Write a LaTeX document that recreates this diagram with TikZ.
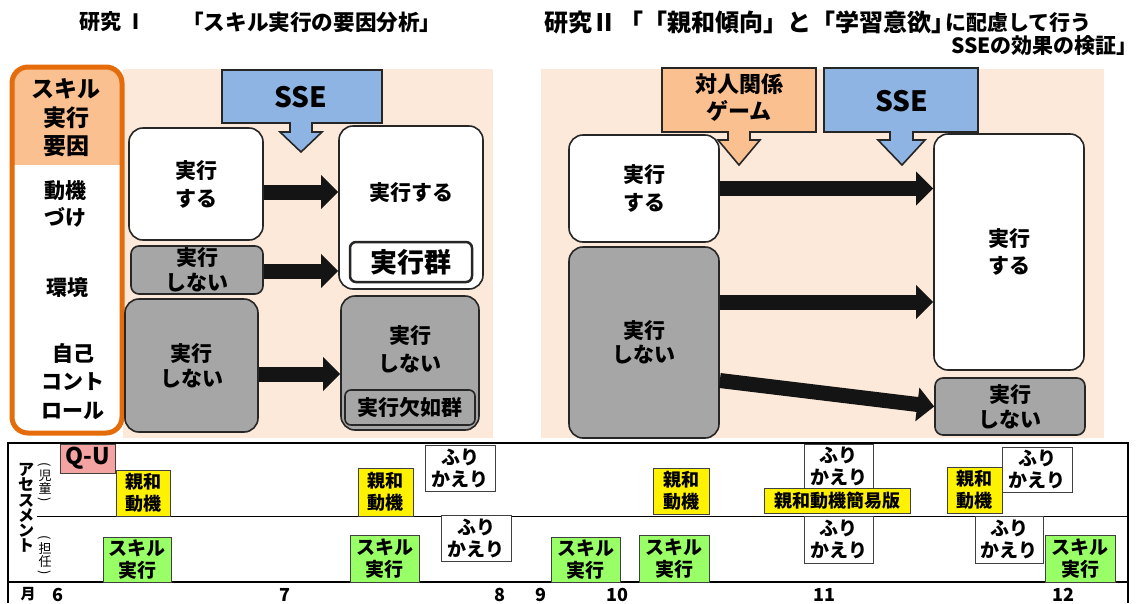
\documentclass[tikz,border=0pt]{standalone}
\usepackage{fontspec}
\setmainfont{Noto Sans CJK JP}
\usetikzlibrary{arrows.meta,calc}
\definecolor{peach}{HTML}{FDE9D9}
\definecolor{orgdark}{HTML}{E46C0A}
\definecolor{orglight}{HTML}{FAC090}
\definecolor{sseblue}{HTML}{8EB4E3}
\definecolor{boxgray}{HTML}{A6A6A6}
\definecolor{qupink}{HTML}{F4A3A3}
\definecolor{skgreen}{HTML}{99FF66}
\newcommand{\fsz}[2]{\fontsize{#1}{#2}\selectfont}
\begin{document}
\begin{tikzpicture}[x=1pt,y=-1pt,font=\bfseries,
  wbox/.style={draw=black!85,line width=1.6pt,fill=white,rounded corners=14pt,inner sep=0pt,align=center,font=\bfseries\fsz{21}{28}},
  gbox/.style={wbox,fill=boxgray},
  sgbox/.style={gbox,rounded corners=8pt},
  lbl/.style={inner sep=0pt,align=center},
  bigarrow/.style={draw=black!92,line width=15pt,-{Triangle[length=17pt,width=33pt]}},
  callout/.style={draw=black!85,line width=1.6pt},
  tbox/.style={draw=black!75,line width=1pt,inner sep=0pt,align=center,font=\bfseries\fsz{18}{22}},
  ybox/.style={tbox,fill=yellow},
  gnbox/.style={tbox,fill=skgreen,font=\bfseries\fsz{19}{22}},
  fbox/.style={tbox,fill=white,font=\bfseries\fsz{19}{22}},
  paren/.style={inner sep=0pt,rotate=-90,font=\fsz{13}{13}},
  month/.style={inner sep=0pt,font=\bfseries\fsz{18}{18}}]
\useasboundingbox[fill=white] (0,0) rectangle (1138,603);

% ---------- titles ----------
\node[lbl,anchor=west,font=\bfseries\fsz{21}{21}] (t1a) at (79,22) {研究\hspace{4pt}Ⅰ};
\node[lbl,anchor=west,font=\bfseries\fsz{21.6}{21.6}] (t1b) at (182,22) {「スキル実行の要因分析」};
\node[lbl,anchor=west,font=\bfseries\fsz{24}{24}] (t2a) at (544,22) {研究Ⅱ};
\node[lbl,anchor=west,font=\bfseries\fsz{24}{24}] (t2b) at (619,22) {「「親和傾向」と「学習意欲」};
\node[lbl,anchor=west,font=\bfseries\fsz{21}{21}] (t2c) at (945,23) {に配慮して行う};
\node[lbl,anchor=east,font=\bfseries\fsz{21}{21}] (t2d) at (1138,46) {SSEの効果の検証」};

% ---------- panels ----------
\fill[peach] (123,69) rectangle (493,438);
\fill[peach] (541,69) rectangle (1104,438);

% ---------- left factor column ----------
\fill[white,rounded corners=16pt] (12,67) rectangle (122,433);
\begin{scope}
  \clip[rounded corners=16pt] (12,67) rectangle (122,433);
  \fill[orglight] (12,67) rectangle (122,165);
\end{scope}
\draw[orgdark,line width=5pt,rounded corners=16pt] (12,67) rectangle (122,433);
\node[lbl,font=\bfseries\fsz{23}{28.5}] (fac) at (66,118) {スキル\\実行\\要因};
\node[lbl,font=\bfseries\fsz{21}{27}] (mot) at (65,203.5) {動機\\づけ};
\node[lbl,font=\bfseries\fsz{21}{27}] (env) at (67,288) {環境};
\node[lbl,font=\bfseries\fsz{21}{28.5}] (self) at (73,381.5) {自己\\コント\\ロール};

% ---------- study I boxes ----------
\node[wbox,minimum width=134,minimum height=112] (W1) at (196,184) {実行\\する};
\node[sgbox,minimum width=132,minimum height=48,font=\bfseries\fsz{21}{25}] (GS) at (197,270) {実行\\しない};
\node[gbox,minimum width=133,minimum height=133,font=\bfseries\fsz{21}{25}] (GB) at (191.5,365.5) {実行\\しない};
\node[wbox,minimum width=144,minimum height=163] (RW) at (411,207.5) {};
\node[lbl,font=\bfseries\fsz{21}{21}] (RWt) at (411,193) {実行する};
\node[wbox,rounded corners=6pt,line width=2.5pt,minimum width=122,minimum height=40,font=\bfseries\fsz{27}{27}] (RWg) at (411,262) {実行群};
\node[gbox,minimum width=138,minimum height=134] (RG) at (410,363) {};
\node[lbl,font=\bfseries\fsz{21}{28}] (RGt) at (410,349) {実行\\しない};
\node[gbox,rounded corners=6pt,minimum width=130,minimum height=35,font=\bfseries\fsz{21}{21}] (RGg) at (410,407.5) {実行欠如群};

\coordinate (ya) at (0,192);
\coordinate (yb) at (0,271);
\coordinate (yc) at (0,374);
\draw[bigarrow] (W1.east |- ya) -- (RW.west |- ya);
\draw[bigarrow] (GS.east |- yb) -- (RW.west |- yb);
\draw[bigarrow] (GB.east |- yc) -- (RG.west |- yc);

% SSE callout (study I)
\draw[callout,fill=sseblue] (222,70) -- (382,70) -- (382,123) -- (312,123) -- (312,132) -- (322,132) -- (301,152) -- (280,132) -- (290,132) -- (290,123) -- (222,123) -- cycle;
\node[lbl,font=\bfseries\fsz{28}{28}] (sse1) at (301,97) {SSE};

% ---------- study II boxes ----------
\node[wbox,minimum width=150,minimum height=107] (RW1) at (644,188.5) {実行\\する};
\node[gbox,minimum width=150,minimum height=191,font=\bfseries\fsz{21}{24}] (RG1) at (644,342.5) {実行\\しない};
\node[wbox,minimum width=150,minimum height=236,font=\bfseries\fsz{21}{27}] (RWr) at (1009,252) {実行\\する};
\node[sgbox,minimum width=150,minimum height=57,font=\bfseries\fsz{21}{25}] (RGr) at (1010,406.5) {実行\\しない};

\coordinate (yd) at (0,302);
\draw[bigarrow] (RW1.east) -- (RWr.west |- RW1.east);
\draw[bigarrow] (RG1.east |- yd) -- (RWr.west |- yd);
\draw[bigarrow] ($(RG1.east)+(0,38)$) -- (RGr.west);

% callouts (study II)
\draw[callout,fill=orglight] (662,68) -- (816,68) -- (816,132) -- (750,132) -- (750,140) -- (760,140) -- (739,165) -- (718,140) -- (728,140) -- (728,132) -- (662,132) -- cycle;
\node[lbl,font=\bfseries\fsz{22}{27}] (game) at (739,98) {対人関係\\ゲーム};
\draw[callout,fill=sseblue] (824,68) -- (978,68) -- (978,132) -- (913,132) -- (913,140) -- (925,140) -- (902,165) -- (878,140) -- (890,140) -- (890,132) -- (824,132) -- cycle;
\node[lbl,font=\bfseries\fsz{28}{28}] (sse2) at (902,101) {SSE};

% ---------- timeline ----------
\draw[line width=1.3pt] (8,603) -- (8,443) -- (1128,443) -- (1128,603);
\draw[line width=1.3pt] (8,582) -- (1128,582);
\draw[line width=1pt] (37,516) -- (1128,516);

\node[lbl,font=\bfseries\fsz{16}{15.3}] (asm) at (26,508) {ア\\セ\\ス\\メ\\ン\\ト};
\node[lbl,font=\fsz{13}{13.5}] (chd) at (45,482) {児\\童};
\node[paren] (chdo) at (45,465) {(};
\node[paren] (chdc) at (45,500) {)};
\node[lbl,font=\fsz{13}{13.5}] (tch) at (45,555) {担\\任};
\node[paren] (tcho) at (45,538) {(};
\node[paren] (tchc) at (45,573) {)};

\node[tbox,fill=qupink,minimum width=55,minimum height=29,font=\bfseries\fsz{23}{23}] (QU) at (87.5,458.5) {Q-U};

\node[ybox,minimum width=54,minimum height=46] (Y1) at (143,493) {親和\\動機};
\node[ybox,minimum width=55,minimum height=48] (Y2) at (385.5,492) {親和\\動機};
\node[ybox,minimum width=56,minimum height=46] (Y3) at (681,491) {親和\\動機};
\node[ybox,minimum width=55,minimum height=46] (Y4) at (974.5,490) {親和\\動機};
\node[ybox,minimum width=146,minimum height=25] (YS) at (837,500.5) {親和動機簡易版};

\node[fbox,minimum width=70,minimum height=46] (F1) at (460,468) {ふり\\かえり};
\node[fbox,minimum width=70,minimum height=46] (F2) at (476,538) {ふり\\かえり};
\node[fbox,minimum width=69,minimum height=44] (F3) at (838.5,466) {ふり\\かえり};
\node[fbox,minimum width=69,minimum height=47] (F4) at (838.5,539.5) {ふり\\かえり};
\node[fbox,minimum width=70,minimum height=45] (F5) at (1037,469.5) {ふり\\かえり};
\node[fbox,minimum width=68,minimum height=47] (F6) at (1009,539.5) {ふり\\かえり};

\node[gnbox,minimum width=68,minimum height=45] (G1) at (137,559.5) {スキル\\実行};
\node[gnbox,minimum width=69,minimum height=47] (G2) at (384.5,558.5) {スキル\\実行};
\node[gnbox,minimum width=69,minimum height=45] (G3) at (585.5,559.5) {スキル\\実行};
\node[gnbox,minimum width=70,minimum height=47] (G4) at (674,558.5) {スキル\\実行};
\node[gnbox,minimum width=70,minimum height=47] (G5) at (1080,558.5) {スキル\\実行};

\node[month,font=\bfseries\fsz{15}{15}] (mo) at (28,594) {月};
\node[month] (m6) at (58,595) {6};
\node[month] (m7) at (285,595) {7};
\node[month] (m8) at (500,595) {8};
\node[month] (m9) at (541,595) {9};
\node[month] (m10) at (617,595) {10};
\node[month] (m11) at (824,595) {11};
\node[month] (m12) at (1063,595) {12};
\end{tikzpicture}
\end{document}
